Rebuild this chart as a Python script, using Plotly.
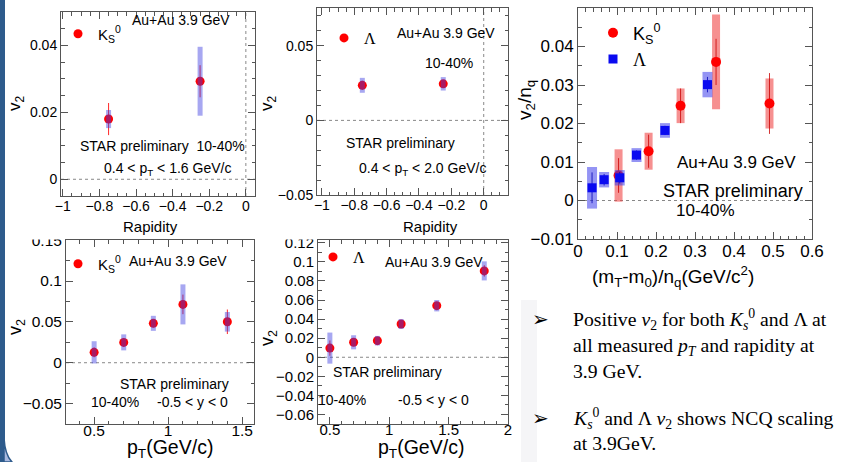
import plotly.graph_objects as go

W, H = 842, 462
def px(x): return x / W
def py(y): return 1 - y / H

SANS = "Liberation Sans, Arial, sans-serif"
SERIF = "Liberation Serif, Times New Roman, serif"

# ---------------- data ----------------
# Panel 1: K0s v2 vs rapidity (0.4 < pT < 1.6 GeV/c)
rap_k = [-0.75, -0.25]
v2_rap_k = [0.018, 0.0293]
stat_rap_k = [0.0048, 0.0048]
sys_rap_k = [0.0027, 0.0103]

# Panel 2: Lambda v2 vs rapidity (0.4 < pT < 2.0 GeV/c)
rap_l = [-0.75, -0.25]
v2_rap_l = [0.0235, 0.0245]
stat_rap_l = [0.003, 0.0025]
sys_rap_l = [0.005, 0.0045]

# Panel 3: NCQ scaling v2/nq vs (mT-m0)/nq
ncq_x_k = [0.104, 0.181, 0.263, 0.354, 0.491]
ncq_y_k = [0.0065, 0.0128, 0.0246, 0.036, 0.0252]
ncq_stat_k = [0.0045, 0.0043, 0.0045, 0.006, 0.0079]
ncq_sys_k = [0.0068, 0.0048, 0.0045, 0.0123, 0.0065]
ncq_x_l = [0.036, 0.067, 0.107, 0.150, 0.223, 0.332]
ncq_y_l = [0.0033, 0.0054, 0.0059, 0.0118, 0.0182, 0.0301]
ncq_stat_l = [0.004, 0.0015, 0.0015, 0.0012, 0.0012, 0.002]
ncq_sys_l = [0.0054, 0.002, 0.002, 0.0018, 0.0019, 0.0033]

# Panel 4: K0s v2 vs pT (-0.5 < y < 0)
pt_k = [0.5, 0.7, 0.9, 1.1, 1.4]
v2_pt_k = [0.0127, 0.0249, 0.0482, 0.0714, 0.0501]
stat_pt_k = [0.006, 0.005, 0.005, 0.012, 0.015]
sys_pt_k = [0.0136, 0.0098, 0.0092, 0.0245, 0.012]

# Panel 5: Lambda v2 vs pT (-0.5 < y < 0)
pt_l = [0.5, 0.7, 0.9, 1.1, 1.4, 1.8]
v2_pt_l = [0.0096, 0.0157, 0.0174, 0.0349, 0.0541, 0.0906]
stat_pt_l = [0.008, 0.004, 0.003, 0.003, 0.004, 0.006]
sys_pt_l = [0.0163, 0.0074, 0.005, 0.0052, 0.006, 0.0100]

K0S = "K<sub>S</sub><sup>0</sup>"
LAM = "<span style='font-family:Liberation Serif'>Λ</span>"

RED = "#FF0000"
BLUE = "#0A0AF0"
SYS_BLUE = "rgba(60,60,225,0.45)"

fig = go.Figure()


def add_v2(x, y, stat, sys, xa, ya, legend, name):
    fig.add_trace(go.Scatter(
        x=x, y=y, mode="markers", xaxis=xa, yaxis=ya, name=name, legend=legend,
        marker=dict(color=RED, size=9, symbol="circle"),
        error_y=dict(type="data", array=stat, color="rgba(255,0,0,0.85)", thickness=1, width=0),
        hoverinfo="skip"))
    fig.add_trace(go.Scatter(
        x=x, y=y, mode="markers", xaxis=xa, yaxis=ya, showlegend=False,
        marker=dict(color="rgba(0,0,0,0)", size=1),
        error_y=dict(type="data", array=sys, color=SYS_BLUE, thickness=5, width=0),
        hoverinfo="skip"))


add_v2(rap_k, v2_rap_k, stat_rap_k, sys_rap_k, "x", "y", "legend", K0S)
add_v2(rap_l, v2_rap_l, stat_rap_l, sys_rap_l, "x2", "y2", "legend2", LAM)
add_v2(pt_k, v2_pt_k, stat_pt_k, sys_pt_k, "x4", "y4", "legend4", K0S)
add_v2(pt_l, v2_pt_l, stat_pt_l, sys_pt_l, "x5", "y5", "legend5", LAM)

# Panel 3
fig.add_trace(go.Scatter(
    x=ncq_x_k, y=ncq_y_k, mode="markers", xaxis="x3", yaxis="y3", showlegend=False,
    marker=dict(color="rgba(0,0,0,0)", size=1),
    error_y=dict(type="data", array=ncq_sys_k, color="rgba(240,70,70,0.6)", thickness=8, width=0),
    hoverinfo="skip"))
fig.add_trace(go.Scatter(
    x=ncq_x_k, y=ncq_y_k, mode="markers", xaxis="x3", yaxis="y3", name=K0S, legend="legend3",
    marker=dict(color=RED, size=10, symbol="circle"),
    error_y=dict(type="data", array=ncq_stat_k, color="rgba(200,0,0,0.8)", thickness=1, width=0),
    hoverinfo="skip"))
fig.add_trace(go.Scatter(
    x=ncq_x_l, y=ncq_y_l, mode="markers", xaxis="x3", yaxis="y3", showlegend=False,
    marker=dict(color="rgba(0,0,0,0)", size=1),
    error_y=dict(type="data", array=ncq_sys_l, color="rgba(60,60,235,0.55)", thickness=10, width=0),
    hoverinfo="skip"))
fig.add_trace(go.Scatter(
    x=ncq_x_l, y=ncq_y_l, mode="markers", xaxis="x3", yaxis="y3", name=LAM, legend="legend3",
    marker=dict(color=BLUE, size=9, symbol="square"),
    error_y=dict(type="data", array=ncq_stat_l, color="rgba(0,0,180,0.8)", thickness=1, width=0),
    hoverinfo="skip"))

FRAME = "#555555"


def ax(domain, rng, dtick, mdtick, fs, anchor, standoff=0):
    return dict(
        domain=domain, range=rng, anchor=anchor, tick0=0, dtick=dtick, automargin=False,
        showgrid=False, zeroline=False, showline=True, linecolor=FRAME, linewidth=1,
        mirror="allticks", ticks="inside", ticklen=7, tickwidth=1, tickcolor=FRAME,
        ticklabelstandoff=standoff,
        tickfont=dict(family=SANS, size=fs, color="black"),
        minor=dict(ticks="inside", ticklen=3.5, dtick=mdtick, tick0=0, tickcolor=FRAME, showgrid=False),
        fixedrange=True,
    )


fig.update_layout(
    width=W, height=H, margin=dict(l=0, r=0, t=0, b=0, autoexpand=False),
    paper_bgcolor="white", plot_bgcolor="white",
    xaxis=ax([px(61), px(255)], [-1.01, 0.05], 0.2, 0.05, 14, "y", -3),
    yaxis=ax([py(196), py(12)], [-0.005, 0.05], 0.02, 0.005, 14, "x"),
    xaxis2=ax([px(317), px(508)], [-1.03, 0.15], 0.2, 0.05, 14, "y2", -3),
    yaxis2=ax([py(195), py(8)], [-0.05, 0.0753], 0.05, 0.01, 14, "x2"),
    xaxis3=ax([px(578), px(812)], [0, 0.6], 0.1, 0.02, 17, "y3", -3),
    yaxis3=ax([py(239), py(8)], [-0.01, 0.05], 0.01, 0.005, 17, "x3"),
    xaxis4=ax([px(66), px(254)], [0.31, 1.58], 0.5, 0.1, 15.5, "y4", -8),
    yaxis4=ax([py(424), py(240)], [-0.075, 0.1502], 0.05, 0.025, 15.5, "x4"),
    xaxis5=ax([px(318), px(508)], [0.4, 2.0], 0.5, 0.1, 15, "y5", -8),
    yaxis5=ax([py(424), py(240)], [-0.07, 0.123], 0.02, 0.01, 15, "x5"),
    showlegend=True,
)

leg = dict(xanchor="left", yanchor="middle", bgcolor="rgba(0,0,0,0)", borderwidth=0,
           itemclick=False, itemdoubleclick=False, tracegroupgap=0)
fig.update_layout(
    legend=dict(leg, x=px(58), y=py(34), font=dict(family=SANS, size=15, color="black")),
    legend2=dict(leg, x=px(324), y=py(38), font=dict(family=SANS, size=16, color="black")),
    legend3=dict(leg, x=px(593), y=py(46), font=dict(family=SANS, size=18, color="black")),
    legend4=dict(leg, x=px(58), y=py(264), font=dict(family=SANS, size=15, color="black")),
    legend5=dict(leg, x=px(313), y=py(257), font=dict(family=SANS, size=16, color="black")),
)

# ---------------- shapes ----------------
shapes = []
dot = dict(color="#888888", width=1, dash="dot")
for xa, ya in [("x", "y"), ("x2", "y2"), ("x3", "y3"), ("x4", "y4"), ("x5", "y5")]:
    shapes.append(dict(type="line", xref=f"{xa} domain", yref=ya, x0=0, x1=1, y0=0, y1=0,
                       line=dot, layer="below"))
for xa, ya in [("x", "y"), ("x2", "y2")]:
    shapes.append(dict(type="line", xref=xa, yref=f"{ya} domain", x0=0, x1=0, y0=0, y1=1,
                       line=dot, layer="below"))

# slide decoration: left blue border and faint text-box edge
shapes.append(dict(type="rect", xref="paper", yref="paper", x0=0, x1=px(5), y0=py(462), y1=py(0),
                   fillcolor="#2E5B8C", line=dict(width=0), layer="below"))
shapes.append(dict(type="path", xref="paper", yref="paper",
                   path=f"M {px(4)},{py(438)} Q {px(5)},{py(455)} {px(12)},{py(462)} L {px(4)},{py(462)} Z",
                   fillcolor="#A9B9DF", line=dict(color="#2E5B8C", width=1.5), layer="below"))
shapes.append(dict(type="rect", xref="paper", yref="paper", x0=px(521), x1=px(537), y0=py(462), y1=py(300),
                   fillcolor="#F5F5F7", line=dict(width=0), layer="below"))
# cropped top tick labels of the lower panels
shapes.append(dict(type="rect", xref="paper", yref="paper", x0=px(18), x1=px(64), y0=py(239.5), y1=py(229),
                   fillcolor="white", line=dict(width=0), layer="above"))
shapes.append(dict(type="rect", xref="paper", yref="paper", x0=px(270), x1=px(316), y0=py(239.5), y1=py(229),
                   fillcolor="white", line=dict(width=0), layer="above"))
fig.update_layout(shapes=shapes)

# ---------------- annotations ----------------
ann = []


def txt(x, y, text, size, family=SANS, xanchor="center", angle=0):
    ann.append(dict(x=px(x), y=py(y), xref="paper", yref="paper", text=text, showarrow=False,
                    font=dict(family=family, size=size, color="black"), xanchor=xanchor,
                    yanchor="middle", textangle=angle))


V2 = "v<sub>2</sub>"
PT_T = "p<sub>T</sub>(GeV/c)"
# axis titles
txt(16, 103, V2, 17, angle=-90)
txt(150, 226, "Rapidity", 15)
txt(268, 103, V2, 17, angle=-90)
txt(430, 226, "Rapidity", 15)
txt(526, 100, "v<sub>2</sub>/n<sub>q</sub>", 19, angle=-90)
txt(673, 276, "(m<sub>T</sub>-m<sub>0</sub>)/n<sub>q</sub>(GeV/c<sup>2</sup>)", 19)
txt(16, 327, V2, 18, angle=-90)
txt(170, 448.5, PT_T, 19.5)
txt(268, 338, V2, 18, angle=-90)
txt(421, 448.5, PT_T, 19.5)

# panel labels
txt(181, 20, "Au+Au 3.9 GeV", 14)
txt(162, 146, "STAR preliminary&nbsp;&nbsp;10-40%", 14)
txt(167, 169, "0.4 &lt; p<sub>T</sub> &lt; 1.6 GeV/c", 14)

txt(446, 33, "Au+Au 3.9 GeV", 14)
txt(449, 63, "10-40%", 14)
txt(400, 143, "STAR preliminary", 14)
txt(422, 169, "0.4 &lt; p<sub>T</sub> &lt; 2.0 GeV/c", 14)

txt(736, 162, "Au+Au 3.9 GeV", 17)
txt(733, 191, "STAR preliminary", 18)
txt(705, 210, "10-40%", 17)

txt(178, 261, "Au+Au 3.9 GeV", 14)
txt(174, 384, "STAR preliminary", 14)
txt(115, 402, "10-40%", 14)
txt(192, 402, "-0.5 &lt; y &lt; 0", 14)

txt(434, 262, "Au+Au 3.9 GeV", 14)
txt(387, 372, "STAR preliminary", 14)
txt(342, 400, "10-40%", 14)
txt(433, 400, "-0.5 &lt; y &lt; 0", 14)

# slide bullet text
BUL = "➢"
TFS = 19.7
txt(540, 319, BUL, 20, family="DejaVu Sans")
txt(540, 418, BUL, 20, family="DejaVu Sans")
txt(571, 319, "Positive <i>v</i><sub>2</sub> for both <i>K<sub>s</sub></i><sup>0</sup> and Λ at", TFS, SERIF, "left")
txt(571, 346, "all measured <i>p<sub>T</sub></i> and rapidity at", TFS, SERIF, "left")
txt(571, 371, "3.9 GeV.", TFS, SERIF, "left")
txt(571, 418, "<i>K<sub>s</sub></i><sup>0</sup> and Λ <i>v</i><sub>2</sub> shows NCQ scaling", TFS, SERIF, "left")
txt(571, 443, "at 3.9GeV.", TFS, SERIF, "left")

fig.update_layout(annotations=ann)

fig.write_html("out.html", config={"displayModeBar": False},
               post_script="document.body.style.margin='0';document.body.style.overflow='hidden';")
